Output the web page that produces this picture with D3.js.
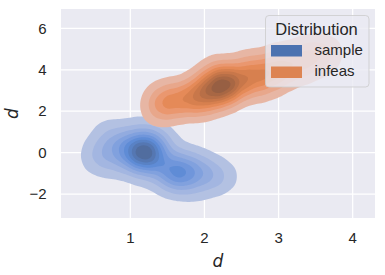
<!DOCTYPE html>
<html>
<head>
<meta charset="utf-8">
<script src="https://cdn.jsdelivr.net/npm/d3@7"></script>
<style>
  body { margin: 0; background: #fff; }
  svg { display: block; }
  text { font-family: "Liberation Sans", Arial, sans-serif; fill: #262626; }
</style>
</head>
<body>
<svg id="chart" width="385" height="275"></svg>
<script>
// chart data
const categories = ["sample", "infeas"];
const palette = ["#4c72b0", "#dd8452"];
const xTicks = [1, 2, 3, 4];
const yTicks = [-2, 0, 2, 4, 6];
const xDomain = [0.065, 4.301];
const yDomain = [-3.158, 6.934];
const legendTitle = "Distribution";

// hand placed points (x, y, weight) that reproduce each density blob
const samplePts = [
  [1.19, 0.0, 3.5], [1.05, 0.05, 2.5], [1.33, -0.05, 2.5], [1.2, 0.35, 2], [1.15, -0.35, 2],
  [0.9, 0.15, 1.5], [0.72, -0.1, 1.2], [0.55, 0.1, 0.9], [0.8, 0.6, 1.1], [1.0, 0.75, 1.1],
  [1.3, 0.75, 1.1], [0.68, 0.95, 0.7], [1.15, 1.05, 0.7], [1.45, 0.45, 1.1], [0.95, -0.55, 1],
  [0.7, -0.6, 0.6], [1.35, -0.6, 1.5], [1.6, -0.4, 1.1], [1.62, -0.93, 2.5], [1.5, -1.0, 1.5],
  [1.78, -0.95, 1.8], [1.7, -1.3, 1.2], [1.95, -1.05, 1.3], [2.15, -1.1, 0.9], [1.9, -0.6, 0.8],
  [1.2, -1.0, 0.8], [1.55, -1.55, 0.7], [1.85, -1.75, 0.7], [2.3, -1.15, 0.6], [2.1, -1.45, 0.6],
  [1.75, -0.2, 0.6], [2.05, -0.7, 0.5], [0.5, -0.4, 0.5]
];
const infeasPts = [
  [2.28, 3.26, 2.4], [2.08, 3.02, 2.3], [2.5, 3.48, 2.3], [2.3, 3.0, 1.8], [2.25, 3.6, 1.8],
  [1.95, 2.8, 1.7], [1.8, 2.55, 1.5], [1.6, 2.35, 1.2], [1.45, 2.15, 0.8], [1.4, 2.5, 0.7],
  [1.65, 2.85, 0.8], [2.0, 3.45, 1], [1.95, 2.3, 0.9], [2.2, 2.6, 0.9], [2.7, 3.72, 1.8],
  [2.9, 3.95, 1.5], [3.1, 4.2, 1.3], [3.3, 4.45, 1.1], [3.5, 4.7, 0.9], [3.68, 4.95, 0.6],
  [2.6, 4.25, 0.9], [2.95, 3.5, 0.9], [3.3, 3.95, 0.6], [2.2, 4.0, 0.7], [2.7, 3.1, 0.7],
  [3.0, 4.6, 0.7], [3.4, 5.05, 0.5], [3.6, 4.35, 0.5], [1.45, 2.8, 0.5], [1.35, 2.05, 0.5]
];
const groups = [samplePts, infeasPts];

// level fractions like seaborn (levels=10, thresh=.05)
const levelFrac = d3.range(9).map(k => 0.05 + k * 0.95 / 9);

// --- husl helpers, seaborn builds its fill colormap with these ---
const M = [[3.240969941904521, -1.537383177570093, -0.498610760293],
           [-0.96924363628087, 1.87596750150772, 0.041555057407175],
           [0.055630079696993, -0.20397695888897, 1.056971514242878]];
const MINV = [[0.41239079926595, 0.35758433938387, 0.18048078840183],
              [0.21263900587151, 0.71516867876775, 0.072192315360733],
              [0.019330818715591, 0.11919477979462, 0.95053215224966]];
const refU = 0.19783000664283, refV = 0.46831999493879;
const kappa = 903.2962962, eps = 0.0088564516;

function maxChroma(L, H) {
  let sub1 = Math.pow(L + 16, 3) / 1560896;
  let sub2 = sub1 > eps ? sub1 : L / kappa;
  let hrad = H / 360 * 2 * Math.PI, best = Infinity;
  for (let c = 0; c < 3; c++) {
    let [m1, m2, m3] = M[c];
    for (let t = 0; t < 2; t++) {
      let top1 = (284517 * m1 - 94839 * m3) * sub2;
      let top2 = (838422 * m3 + 769860 * m2 + 731718 * m1) * L * sub2 - 769860 * t * L;
      let bot = (632260 * m3 - 126452 * m2) * sub2 + 126452 * t;
      let len = (top2 / bot) / (Math.sin(hrad) - (top1 / bot) * Math.cos(hrad));
      if (len >= 0) best = Math.min(best, len);
    }
  }
  return best;
}
function huslToRgb(H, S, L) {
  let C = maxChroma(L, H) * S / 100;
  let U = C * Math.cos(H * Math.PI / 180), V = C * Math.sin(H * Math.PI / 180);
  let Y = L > 8 ? Math.pow((L + 16) / 116, 3) : L / kappa;
  let vu = U / (13 * L) + refU, vv = V / (13 * L) + refV;
  let X = -(9 * Y * vu) / ((vu - 4) * vv - vu * vv);
  let Z = (9 * Y - 15 * vv * Y - vv * X) / (3 * vv);
  let rgb = M.map(r => r[0] * X + r[1] * Y + r[2] * Z)
    .map(c => c <= 0.0031308 ? 12.92 * c : 1.055 * Math.pow(c, 1 / 2.4) - 0.055)
    .map(c => Math.round(255 * Math.max(0, Math.min(1, c))));
  return d3.rgb(rgb[0], rgb[1], rgb[2]).formatHex();
}
function rgbToHusl(hex) {
  let c = d3.rgb(hex);
  let lin = [c.r, c.g, c.b].map(v => v / 255)
    .map(v => v > 0.04045 ? Math.pow((v + 0.055) / 1.055, 2.4) : v / 12.92);
  let [X, Y, Z] = MINV.map(r => r[0] * lin[0] + r[1] * lin[1] + r[2] * lin[2]);
  let L = Y <= eps ? Y * kappa : 116 * Math.cbrt(Y) - 16;
  let d = X + 15 * Y + 3 * Z;
  let U = 13 * L * (4 * X / d - refU), V = 13 * L * (9 * Y / d - refV);
  let C = Math.hypot(U, V);
  let H = (Math.atan2(V, U) * 180 / Math.PI + 360) % 360;
  return [H, C / maxChroma(L, H) * 100, L];
}
// colour of the colormap at v in [0,1] (0 = low density)
function cmapColor(base, v) {
  let [h, s] = rgbToHusl(base);
  let i = Math.round((1 - v) * 255);
  let xx = -1 + 2 * i / (Math.floor(1.15 * 256) - 1);
  let L = 35 + 45 * i / 255;
  return huslToRgb(h, s * Math.cos(xx), L);
}

// --- layout ---
const svg = d3.select("#chart");
const mLeft = 61, mTop = 9, mRight = 375, mBottom = 218;
const W = mRight - mLeft, H = mBottom - mTop;

const x = d3.scaleLinear().domain(xDomain).range([mLeft, mRight]);
const y = d3.scaleLinear().domain(yDomain).range([mBottom, mTop]);

svg.append("defs").append("clipPath").attr("id", "plotclip")
  .append("rect").attr("x", mLeft).attr("y", mTop).attr("width", W).attr("height", H);

// background and grid
svg.append("rect").attr("x", mLeft).attr("y", mTop).attr("width", W).attr("height", H)
  .attr("fill", "#eaeaf2");

const grid = svg.append("g").attr("stroke", "#fff").attr("stroke-width", 1.25);
grid.selectAll("line.gx").data(xTicks).join("line")
  .attr("x1", d => x(d)).attr("x2", d => x(d)).attr("y1", mTop).attr("y2", mBottom);
grid.selectAll("line.gy").data(yTicks).join("line")
  .attr("y1", d => y(d)).attr("y2", d => y(d)).attr("x1", mLeft).attr("x2", mRight);

// filled kde contours
const plot = svg.append("g").attr("clip-path", "url(#plotclip)");
groups.forEach((pts, gi) => {
  let dens = d3.contourDensity()
    .x(d => x(d[0]) - mLeft)
    .y(d => y(d[1]) - mTop)
    .weight(d => d[2])
    .size([W, H])
    .cellSize(2)
    .bandwidth(10)
    .contours(pts);
  let g = plot.append("g").attr("transform", `translate(${mLeft},${mTop})`);
  levelFrac.forEach((f, k) => {
    g.append("path")
      .attr("d", d3.geoPath()(dens(dens.max * f)))
      .attr("fill", cmapColor(palette[gi], 0.8 * (k + 0.5) / 9));
  });
});

// tick labels
svg.append("g").selectAll("text").data(xTicks).join("text")
  .attr("x", d => x(d)).attr("y", 242.5)
  .attr("text-anchor", "middle").attr("font-size", 15)
  .text(d => d);
svg.append("g").selectAll("text").data(yTicks).join("text")
  .attr("x", 46.5).attr("y", d => y(d) + 5.3)
  .attr("text-anchor", "end").attr("font-size", 15)
  .text(d => d < 0 ? "\u2212" + Math.abs(d) : d);

// axis labels
svg.append("text").attr("x", (mLeft + mRight) / 2).attr("y", 266.5)
  .attr("text-anchor", "middle").attr("font-size", 17)
  .attr("font-style", "italic").style("font-family", "'DejaVu Sans', sans-serif")
  .text("d");
svg.append("text").attr("transform", `translate(18,${(mTop + mBottom) / 2}) rotate(-90)`)
  .attr("text-anchor", "middle").attr("font-size", 17)
  .attr("font-style", "italic").style("font-family", "'DejaVu Sans', sans-serif")
  .text("d");

// legend
const lg = svg.append("g");
lg.append("rect").attr("x", 265.5).attr("y", 15.5).attr("width", 103.5).attr("height", 71.5)
  .attr("rx", 3.5).attr("fill", "#eaeaf2").attr("fill-opacity", 0.8)
  .attr("stroke", "#cccccc").attr("stroke-opacity", 0.8);
lg.append("text").attr("x", 316.5).attr("y", 35).attr("text-anchor", "middle")
  .attr("font-size", 16.5).text(legendTitle);
categories.forEach((c, i) => {
  lg.append("rect").attr("x", 271).attr("y", 45 + i * 21.5).attr("width", 31).attr("height", 11.5)
    .attr("fill", palette[i]);
  lg.append("text").attr("x", 314.5).attr("y", 55 + i * 21.3).attr("font-size", 15).text(c);
});
</script>
</body>
</html>
